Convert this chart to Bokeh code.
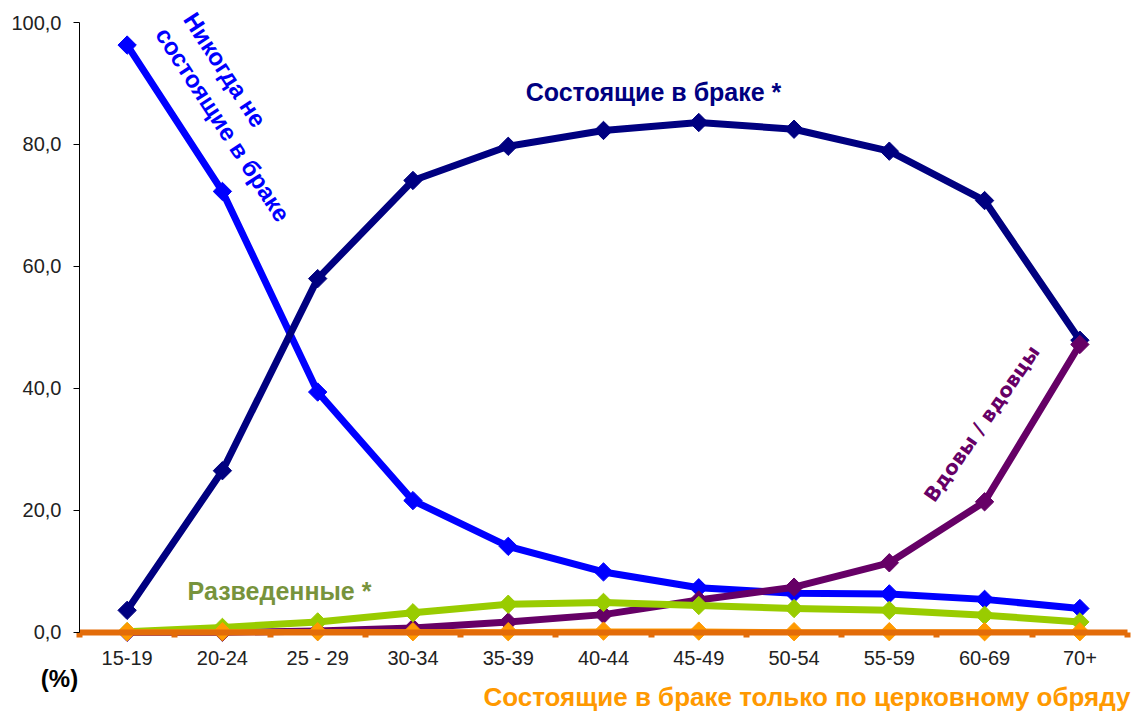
import math
import numpy as np
from bokeh.plotting import figure
from bokeh.models import Range1d, FixedTicker, Label
from bokeh.embed import file_html
from bokeh.resources import INLINE

# ---------------- data ----------------
age_groups = ["15-19", "20-24", "25 - 29", "30-34", "35-39", "40-44",
              "45-49", "50-54", "55-59", "60-69", "70+"]
never_married = [96.3, 72.3, 39.4, 21.6, 14.1, 9.9, 7.3, 6.4, 6.3, 5.4, 3.9]
married = [3.6, 26.5, 58.0, 74.1, 79.7, 82.3, 83.6, 82.5, 78.9, 70.8, 47.9]
widowed = [0.0, 0.0, 0.2, 0.7, 1.7, 2.9, 5.3, 7.4, 11.4, 21.4, 47.2]
divorced = [0.1, 0.8, 1.7, 3.2, 4.6, 4.9, 4.4, 3.9, 3.6, 2.8, 1.7]
church_only = [0.1, 0.1, 0.1, 0.1, 0.1, 0.2, 0.2, 0.1, 0.1, 0.1, 0.1]
y_ticks = [0, 20, 40, 60, 80, 100]

label_married = "Состоящие в браке *"
label_never = ["Никогда  не", "состоящие в браке"]
label_widowed = "Вдовы / вдовцы"
label_divorced = "Разведенные *"
label_church = "Состоящие в браке только по церковному обряду"
label_unit = "(%)"

# ---------------- layout helpers (page pixels -> data) ----------------
W, H = 1135, 715
PLOT_LEFT, PLOT_RIGHT = 79, 1127          # where the category band starts / ends
PX_PER_CAT = (PLOT_RIGHT - PLOT_LEFT) / len(age_groups)
Y0_PX, PX_PER_UNIT = 631.8, 6.098         # pixel row of 0 and pixels per percent

def dx(px):
    return (px - PLOT_LEFT) / PX_PER_CAT - 0.5

def dy(py):
    return (Y0_PX - py) / PX_PER_UNIT

xs = list(range(len(age_groups)))
bounds_x = [i - 0.5 for i in range(len(age_groups) + 1)]

p = figure(width=W, height=H, output_backend="svg", toolbar_location=None,
           x_range=Range1d(dx(0), dx(W)), y_range=Range1d(dy(H), dy(0)),
           min_border=0, min_border_left=0, min_border_right=0,
           min_border_top=0, min_border_bottom=0)
p.outline_line_color = None
p.grid.visible = False
p.background_fill_color = "white"
p.border_fill_color = "white"

# y axis (drawn at the left edge of the category band)
p.yaxis.fixed_location = bounds_x[0]
p.yaxis.ticker = FixedTicker(ticks=y_ticks)
p.yaxis.major_label_overrides = {t: f"{t:.1f}".replace(".", ",") for t in y_ticks}
p.yaxis.bounds = (0, 100)
p.yaxis.axis_line_color = "black"
p.yaxis.axis_line_width = 1
p.yaxis.major_tick_line_color = "black"
p.yaxis.major_tick_out = 6
p.yaxis.major_tick_in = 0
p.yaxis.minor_tick_line_color = None
p.yaxis.major_label_standoff = 12
p.yaxis.major_label_text_font = "Liberation Sans"
p.yaxis.major_label_text_font_size = "20px"
p.yaxis.major_label_text_color = "#222222"

# x axis: thick orange line at 0, small ticks at category boundaries
axis_orange = "#E36C09"
p.xaxis.fixed_location = 0
p.xaxis.ticker = FixedTicker(ticks=xs, minor_ticks=bounds_x)
p.xaxis.major_label_overrides = {i: g for i, g in zip(xs, age_groups)}
p.xaxis.bounds = (bounds_x[0], bounds_x[-1])
p.xaxis.axis_line_color = axis_orange
p.xaxis.axis_line_width = 6
p.xaxis.major_tick_line_color = None
p.xaxis.major_tick_out = 0
p.xaxis.major_tick_in = 0
p.xaxis.minor_tick_line_color = axis_orange
p.xaxis.minor_tick_line_width = 6
p.xaxis.minor_tick_out = 5
p.xaxis.minor_tick_in = 0
p.xaxis.major_label_standoff = 10
p.xaxis.major_label_text_font = "Liberation Sans"
p.xaxis.major_label_text_font_size = "20px"
p.xaxis.major_label_text_color = "#222222"

def series(vals, color, lw=7, size=13):
    p.line(xs, vals, line_color=color, line_width=lw, line_join="round")
    p.scatter(xs, vals, marker="square", angle=np.pi / 4, size=size,
              fill_color=color, line_color=color)

series(never_married, "#0000FF")
series(married, "#000080")
series(widowed, "#660066")
series(divorced, "#99CC00")
series(church_only, "#FF9900", lw=5)

# ---------------- text labels ----------------
def add_label(text, px, py, color, size=25, align="center", angle=0.0,
              font="Liberation Sans", style="bold"):
    # (px, py) is the baseline anchor in page pixels; the label is drawn
    # around the middle of its em box, so move the anchor up along the text's
    # own vertical direction by ~0.35 em.
    lift = 0.35 * size
    t = math.radians(angle)
    ax = px - lift * math.sin(t)
    ay = py - lift * math.cos(t)
    p.add_layout(Label(x=dx(ax), y=dy(ay), text=text, text_color=color,
                       text_font=font, text_font_size=f"{size}px",
                       text_font_style=style, text_align=align,
                       text_baseline="alphabetic", angle=angle, angle_units="deg"))

add_label(label_married, 653, 100, "#000080")
add_label(label_divorced, 279, 599, "#77933C")
add_label(label_church, 1130, 706, "#FF9900", align="right", size=26)
add_label(label_unit, 59, 686, "black", size=24)
add_label(label_never[0], 182, 19, "#0000FF", align="left", angle=-57, size=24)
add_label(label_never[1], 154, 34, "#0000FF", align="left", angle=-57, size=24)
add_label(label_widowed, 934, 503, "#660066", align="left", angle=55,
          font="DejaVu Sans", size=20)

open("out.html", "w").write(file_html(p, INLINE))
